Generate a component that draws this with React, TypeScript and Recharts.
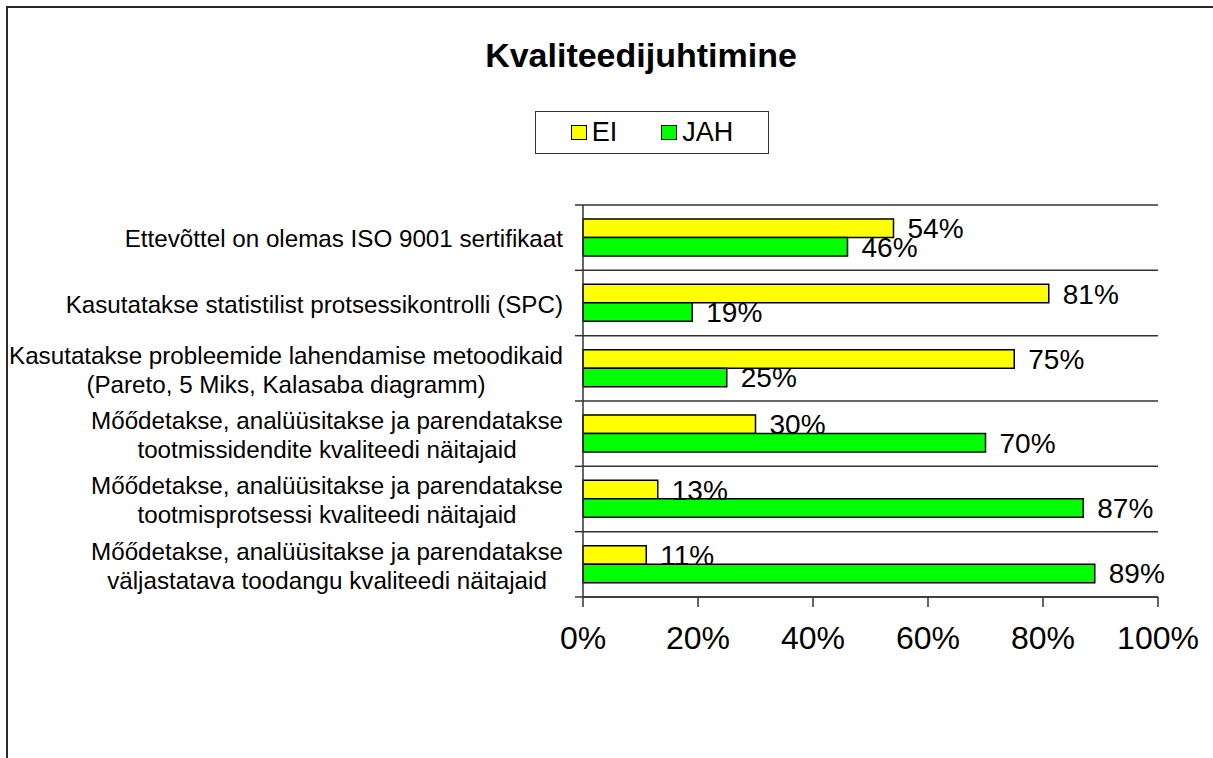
import React from "react";
import {
  BarChart,
  Bar,
  XAxis,
  YAxis,
  CartesianGrid,
  LabelList,
} from "recharts";

const title = "Kvaliteedijuhtimine";
const categories = [
  "Ettevõttel on olemas ISO 9001 sertifikaat",
  "Kasutatakse statistilist protsessikontrolli (SPC)",
  "Kasutatakse probleemide lahendamise metoodikaid\n(Pareto, 5 Miks, Kalasaba diagramm)",
  "Mőődetakse, analüüsitakse ja parendatakse\ntootmissidendite kvaliteedi näitajaid",
  "Mőődetakse, analüüsitakse ja parendatakse\ntootmisprotsessi kvaliteedi näitajaid",
  "Mőődetakse, analüüsitakse ja parendatakse\nväljastatava toodangu kvaliteedi näitajaid",
];
const eiValues = [54, 81, 75, 30, 13, 11];
const jahValues = [46, 19, 25, 70, 87, 89];
const xTicks = [0, 20, 40, 60, 80, 100];
const seriesNames = ["EI", "JAH"];
const seriesColors = ["#FFFF00", "#00FF00"];

const data = categories.map((c, i) => ({
  name: c,
  EI: eiValues[i],
  JAH: jahValues[i],
}));

const FONT = "'Liberation Sans', Arial, sans-serif";
const W = 1213;
const H = 758;
const MARGIN = { top: 205, right: 55, bottom: 111, left: 0 };
const X_AXIS_H = 50;
const Y_AXIS_W = 583;
const PLOT_H = H - MARGIN.top - MARGIN.bottom - X_AXIS_H;
const BAND = PLOT_H / categories.length;
const LINE_COLOR = "#333333";
const CAT_FONT_SIZE = 24.2;

let measureCtx: CanvasRenderingContext2D | null = null;
function measure(text: string, size: number): number {
  if (!measureCtx) {
    const c = document.createElement("canvas");
    measureCtx = c.getContext("2d");
  }
  if (!measureCtx) return text.length * size * 0.5;
  measureCtx.font = `${size}px 'Liberation Sans', Arial, sans-serif`;
  return measureCtx.measureText(text).width;
}

function CategoryTick(props: any) {
  const { x, y, payload, index } = props;
  const lines = String(payload.value).split("\n");
  const maxW = Math.max(...lines.map((l) => measure(l, CAT_FONT_SIZE)));
  const cx = x - maxW / 2;
  const lh = 29;
  const startY = y - ((lines.length - 1) * lh) / 2 + 1;
  const axisX = x + 20;
  return (
    <g>
      <line
        x1={axisX - 8}
        x2={axisX}
        y1={y - BAND / 2}
        y2={y - BAND / 2}
        stroke={LINE_COLOR}
        strokeWidth={1.5}
      />
      {index === categories.length - 1 && (
        <line
          x1={axisX - 8}
          x2={axisX}
          y1={y + BAND / 2}
          y2={y + BAND / 2}
          stroke={LINE_COLOR}
          strokeWidth={1.5}
        />
      )}
      <text
        x={cx}
        y={startY}
        textAnchor="middle"
        fontSize={CAT_FONT_SIZE}
        fill="#000"
        fontFamily={FONT}
      >
        {lines.map((l, i) => (
          <tspan key={i} x={cx} y={startY + i * lh} dy="0.36em">
            {l}
          </tspan>
        ))}
      </text>
    </g>
  );
}

export default function App() {
  return (
    <div
      style={{
        position: "absolute",
        left: 0,
        top: 0,
        width: W,
        height: H,
        fontFamily: FONT,
        background: "#fff",
        overflow: "hidden",
      }}
    >
      <div
        style={{
          position: "absolute",
          left: 6,
          top: 6,
          width: W + 20,
          height: H + 20,
          border: "2px solid #2a2a2a",
          boxSizing: "border-box",
        }}
      />
      <div
        style={{
          position: "absolute",
          left: 0,
          top: 36,
          width: 1282,
          textAlign: "center",
          fontSize: 34,
          fontWeight: "bold",
          color: "#000",
        }}
      >
        {title}
      </div>
      <div
        style={{
          position: "absolute",
          left: 535,
          top: 111,
          width: 234,
          height: 43,
          border: "1.5px solid #333",
          boxSizing: "border-box",
          display: "flex",
          alignItems: "center",
          justifyContent: "center",
          gap: 44,
          fontSize: 27,
          zIndex: 2,
          background: "#fff",
        }}
      >
        {seriesNames.map((n, i) => (
          <div key={n} style={{ display: "flex", alignItems: "center" }}>
            <div
              style={{
                width: 14,
                height: 13,
                background: seriesColors[i],
                border: "1.5px solid #000",
                marginRight: 5,
              }}
            />
            <span>{n}</span>
          </div>
        ))}
      </div>
      <div style={{ position: "absolute", left: 0, top: 0 }}>
        <BarChart
          width={W}
          height={H}
          data={data}
          layout="vertical"
          margin={MARGIN}
          barSize={18.5}
          barGap={0}
        >
          <CartesianGrid
            vertical={false}
            horizontal={true}
            stroke={LINE_COLOR}
            strokeWidth={1.5}
            horizontalCoordinatesGenerator={({ offset }: any) =>
              Array.from(
                { length: categories.length + 1 },
                (_, i) => offset.top + (i * offset.height) / categories.length
              )
            }
          />
          <XAxis
            type="number"
            domain={[0, 100]}
            ticks={xTicks}
            tickFormatter={(v: number) => `${v}%`}
            height={X_AXIS_H}
            tickSize={10}
            tickMargin={19}
            tick={{ fontSize: 32, fill: "#000", fontFamily: FONT }}
            axisLine={{ stroke: LINE_COLOR, strokeWidth: 1.5 }}
            tickLine={{ stroke: LINE_COLOR, strokeWidth: 1.5 }}
            interval={0}
          />
          <YAxis
            type="category"
            dataKey="name"
            width={Y_AXIS_W}
            tickSize={8}
            tickMargin={12}
            tickLine={false}
            axisLine={{ stroke: LINE_COLOR, strokeWidth: 1.5 }}
            tick={<CategoryTick />}
            interval={0}
          />
          <Bar
            dataKey="EI"
            fill={seriesColors[0]}
            stroke="#000"
            strokeWidth={1.5}
            isAnimationActive={false}
          >
            <LabelList
              dataKey="EI"
              position="right"
              offset={14}
              formatter={(v: any) => `${v}%`}
              style={{ fontSize: 28, fill: "#000", fontFamily: FONT }}
            />
          </Bar>
          <Bar
            dataKey="JAH"
            fill={seriesColors[1]}
            stroke="#000"
            strokeWidth={1.5}
            isAnimationActive={false}
          >
            <LabelList
              dataKey="JAH"
              position="right"
              offset={14}
              formatter={(v: any) => `${v}%`}
              style={{ fontSize: 28, fill: "#000", fontFamily: FONT }}
            />
          </Bar>
        </BarChart>
      </div>
    </div>
  );
}
